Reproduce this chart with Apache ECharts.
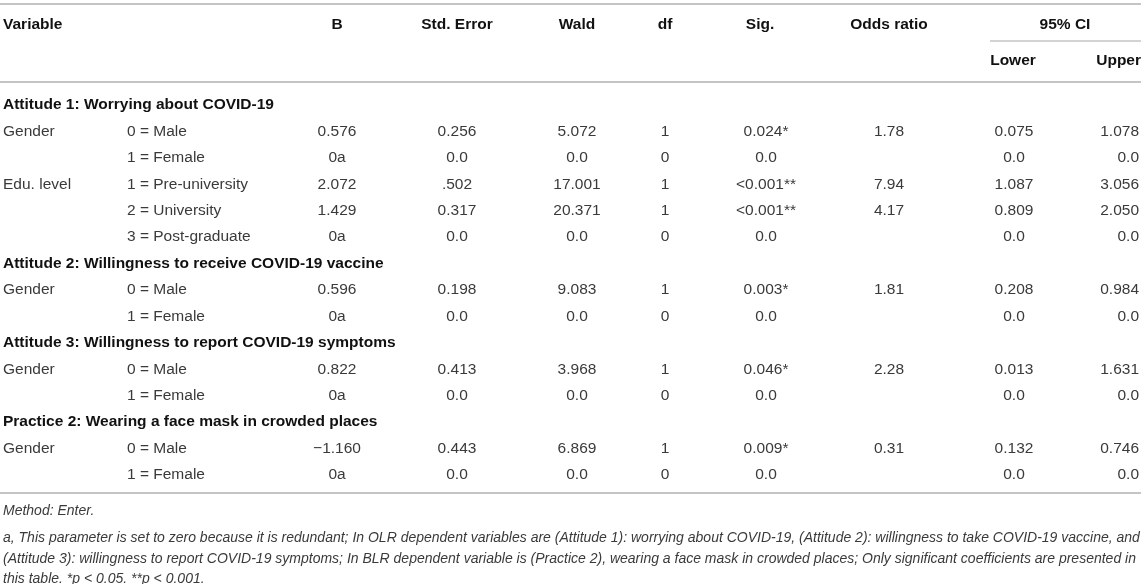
<!DOCTYPE html>
<html>
<head>
<meta charset="utf-8">
<script src="https://cdn.jsdelivr.net/npm/echarts@6/dist/echarts.min.js"></script>
<style>
  html, body { margin: 0; padding: 0; background: #fff; }
  #main { width: 1145px; height: 584px; }
</style>
</head>
<body>
<div id="main"></div>
<script>
// header text
var headerTop = ['Variable', 'B', 'Std. Error', 'Wald', 'df', 'Sig.', 'Odds ratio', '95% CI'];
var headerSub = ['Lower', 'Upper'];

// body, one array per column (15 rows, section rows span the table)
var rowKind = ['section', 'row', 'row', 'row', 'row', 'row', 'section', 'row', 'row', 'section', 'row', 'row', 'section', 'row', 'row'];
var variables = ['Attitude 1: Worrying about COVID-19', 'Gender', '', 'Edu. level', '', '',
  'Attitude 2: Willingness to receive COVID-19 vaccine', 'Gender', '',
  'Attitude 3: Willingness to report COVID-19 symptoms', 'Gender', '',
  'Practice 2: Wearing a face mask in crowded places', 'Gender', ''];
var levels = ['', '0 = Male', '1 = Female', '1 = Pre-university', '2 = University', '3 = Post-graduate',
  '', '0 = Male', '1 = Female', '', '0 = Male', '1 = Female', '', '0 = Male', '1 = Female'];
var colB = ['', '0.576', '0a', '2.072', '1.429', '0a', '', '0.596', '0a', '', '0.822', '0a', '', '\u22121.160', '0a'];
var colSE = ['', '0.256', '0.0', '.502', '0.317', '0.0', '', '0.198', '0.0', '', '0.413', '0.0', '', '0.443', '0.0'];
var colWald = ['', '5.072', '0.0', '17.001', '20.371', '0.0', '', '9.083', '0.0', '', '3.968', '0.0', '', '6.869', '0.0'];
var colDf = ['', '1', '0', '1', '1', '0', '', '1', '0', '', '1', '0', '', '1', '0'];
var colSig = ['', '0.024*', '0.0', '<0.001**', '<0.001**', '0.0', '', '0.003*', '0.0', '', '0.046*', '0.0', '', '0.009*', '0.0'];
var colOR = ['', '1.78', '', '7.94', '4.17', '', '', '1.81', '', '', '2.28', '', '', '0.31', ''];
var colLower = ['', '0.075', '0.0', '1.087', '0.809', '0.0', '', '0.208', '0.0', '', '0.013', '0.0', '', '0.132', '0.0'];
var colUpper = ['', '1.078', '0.0', '3.056', '2.050', '0.0', '', '0.984', '0.0', '', '1.631', '0.0', '', '0.746', '0.0'];

var notes = [
  'Method: Enter.',
  'a, This parameter is set to zero because it is redundant; In OLR dependent variables are (Attitude 1): worrying about COVID-19, (Attitude 2): willingness to take COVID-19 vaccine, and',
  '(Attitude 3): willingness to report COVID-19 symptoms; In BLR dependent variable is (Practice 2), wearing a face mask in crowded places; Only significant coefficients are presented in',
  'this table. *p < 0.05. **p < 0.001.'
];

// column layout: x anchor and alignment
var columns = [
  { data: variables, x: 3, align: 'left' },
  { data: levels, x: 127, align: 'left' },
  { data: colB, x: 337, align: 'center' },
  { data: colSE, x: 457, align: 'center' },
  { data: colWald, x: 577, align: 'center' },
  { data: colDf, x: 665, align: 'center' },
  { data: colSig, x: 766, align: 'center' },
  { data: colOR, x: 889, align: 'center' },
  { data: colLower, x: 1014, align: 'center' },
  { data: colUpper, x: 1139, align: 'right' }
];
var headerX = [3, 337, 457, 577, 665, 760, 889, 1065];
var headerAlign = ['left', 'center', 'center', 'center', 'center', 'center', 'center', 'center'];
var subX = [1013, 1141];
var subAlign = ['center', 'right'];

var FONT = '"Liberation Sans", Arial, sans-serif';
var BODY = 'normal 15.5px ' + FONT;
var BOLD = 'bold 15.5px ' + FONT;

var headerCells = [];
headerTop.forEach(function (t, i) {
  headerCells.push({ value: [headerX[i], 0], text: t, align: headerAlign[i], bold: true });
});
headerSub.forEach(function (t, i) {
  headerCells.push({ value: [subX[i], 1], text: t, align: subAlign[i], bold: true });
});

var bodyCells = [];
columns.forEach(function (col) {
  col.data.forEach(function (t, r) {
    if (!t) return;
    bodyCells.push({ value: [col.x, r], text: t, align: col.align, bold: rowKind[r] === 'section' });
  });
});

function textItem(cells) {
  return function (params, api) {
    var c = cells[params.dataIndex];
    var p = api.coord([api.value(0), api.value(1)]);
    return {
      type: 'text',
      x: p[0],
      y: p[1],
      style: {
        text: c.text,
        textAlign: c.align,
        textVerticalAlign: 'middle',
        font: c.bold ? BOLD : BODY,
        fill: c.bold ? '#111' : '#3a3a3a'
      }
    };
  };
}

var rule = '#c4c4c4';
function hline(x1, x2, y, w) {
  return { type: 'line', shape: { x1: x1, y1: y, x2: x2, y2: y }, style: { stroke: rule, lineWidth: w }, silent: true };
}

var graphics = [
  hline(0, 1141, 4, 2),
  hline(990, 1141, 41, 1.5),
  hline(0, 1141, 82, 2),
  hline(0, 1141, 493, 2)
];
var noteY = [512, 539, 560, 580];
notes.forEach(function (t, i) {
  graphics.push({
    type: 'text',
    left: 3,
    top: noteY[i] - 8,
    style: { text: t, font: 'italic 14px ' + FONT, fill: '#3a3a3a' },
    silent: true
  });
});

var chart = echarts.init(document.getElementById('main'));
chart.setOption({
  animation: false,
  backgroundColor: '#fff',
  grid: [
    { left: 0, width: 1145, top: 7, height: 72 },
    { left: 0, width: 1145, top: 91.8, height: 396.4 }
  ],
  xAxis: [
    { type: 'value', gridIndex: 0, min: 0, max: 1145, show: false },
    { type: 'value', gridIndex: 1, min: 0, max: 1145, show: false }
  ],
  yAxis: [
    { type: 'category', gridIndex: 0, data: ['top', 'sub'], inverse: true, show: false },
    { type: 'category', gridIndex: 1, data: rowKind.map(function (k, i) { return String(i); }), inverse: true, show: false }
  ],
  series: [
    { type: 'custom', xAxisIndex: 0, yAxisIndex: 0, data: headerCells, renderItem: textItem(headerCells), silent: true },
    { type: 'custom', xAxisIndex: 1, yAxisIndex: 1, data: bodyCells, renderItem: textItem(bodyCells), silent: true }
  ],
  graphic: graphics
});
</script>
</body>
</html>
